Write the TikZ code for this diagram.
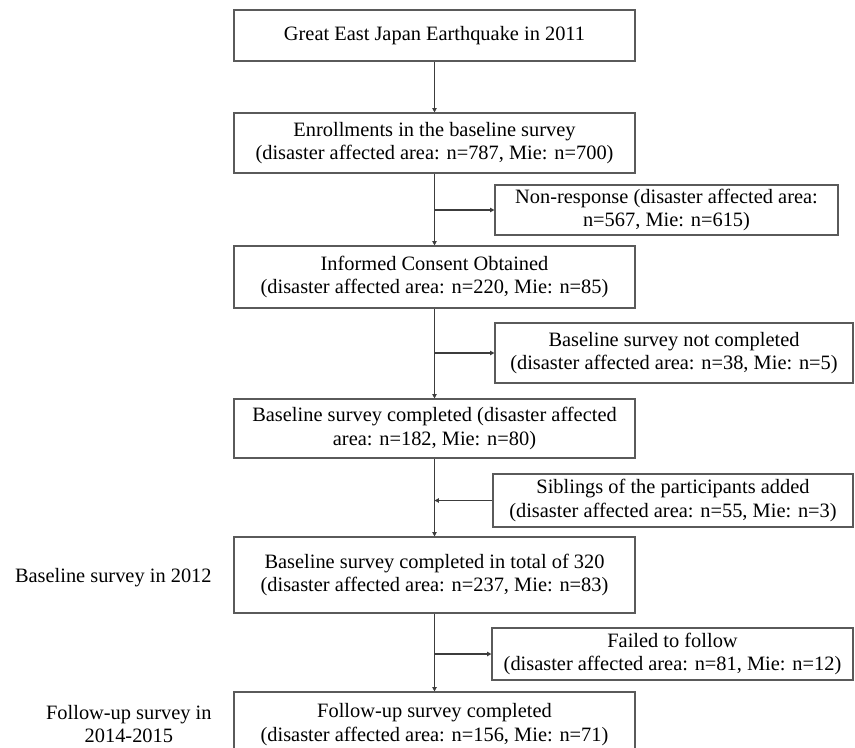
\documentclass[tikz,border=0pt]{standalone}
\usepackage{fontspec}
\setmainfont{Liberation Serif}
\usetikzlibrary{arrows.meta,positioning}
\definecolor{Frame}{HTML}{5A5A5A}
\definecolor{Wire}{HTML}{3C3C3C}

\begin{document}
\begin{tikzpicture}[x=0.5pt, y=-0.5pt,
    every node/.style={font=\fontsize{10.2pt}{11.8pt}\selectfont, inner sep=0pt},
    mainbox/.style={draw=Frame, line width=0.55pt, align=center, minimum width=200.5pt},
    sidebox/.style={draw=Frame, line width=0.55pt, align=center},
    flow/.style={Wire, line width=0.55pt, -{Triangle[length=2.2pt,width=2.2pt]}}]
    \useasboundingbox (0,0) rectangle (855,748);
    % main column
    \node[mainbox, minimum height=25.5pt] (quake) at (434.5,35.5) {Great East Japan Earthquake in 2011};
    \node[mainbox, minimum height=30pt] (enroll) at (434.5,143) {Enrollments in the baseline survey\\(disaster affected area: n=787, Mie: n=700)};
    \node[mainbox, minimum height=31pt] (consent) at (434.5,277) {Informed Consent Obtained\\(disaster affected area: n=220, Mie: n=85)};
    \node[mainbox, minimum height=29.5pt] (basedone) at (434.5,428.5) {Baseline survey completed (disaster affected\\area: n=182, Mie: n=80)};
    \node[mainbox, minimum height=38pt] (total) at (434.5,575) {Baseline survey completed in total of 320\\(disaster affected area: n=237, Mie: n=83)};
    \node[mainbox, minimum height=32.5pt] (followup) at (434.5,724.5) {Follow-up survey completed\\(disaster affected area: n=156, Mie: n=71)};
    % side boxes
    \node[sidebox, minimum width=171.5pt, minimum height=25pt] (nonresp) at (666.5,210) {Non-response (disaster affected area:\\n=567, Mie: n=615)};
    \node[sidebox, minimum width=179pt, minimum height=30pt] (notdone) at (674,353) {Baseline survey not completed\\(disaster affected area: n=38, Mie: n=5)};
    \node[sidebox, minimum width=180pt, minimum height=26.5pt] (siblings) at (673,500.5) {Siblings of the participants added\\(disaster affected area: n=55, Mie: n=3)};
    \node[sidebox, minimum width=180.5pt, minimum height=26pt] (lost) at (672.5,654) {Failed to follow\\(disaster affected area: n=81, Mie: n=12)};
    % phase labels
    \node[anchor=east, align=center] (phasebase) at (212,578) {Baseline survey in 2012};
    \node[anchor=east, align=center] (phasefollow) at (212,724) {Follow-up survey in\\2014-2015};
    % connectors
    \draw[flow] (quake) -- (enroll);
    \draw[flow] (enroll) -- (consent);
    \draw[flow] (enroll.south |- nonresp.west) -- (nonresp.west);
    \draw[flow] (consent) -- (basedone);
    \draw[flow] (consent.south |- notdone.west) -- (notdone.west);
    \draw[flow] (basedone) -- (total);
    \draw[flow] (siblings.west) -- (basedone.south |- siblings.west);
    \draw[flow] (total) -- (followup);
    \draw[flow] (total.south |- lost.west) -- (lost.west);
\end{tikzpicture}
\end{document}
